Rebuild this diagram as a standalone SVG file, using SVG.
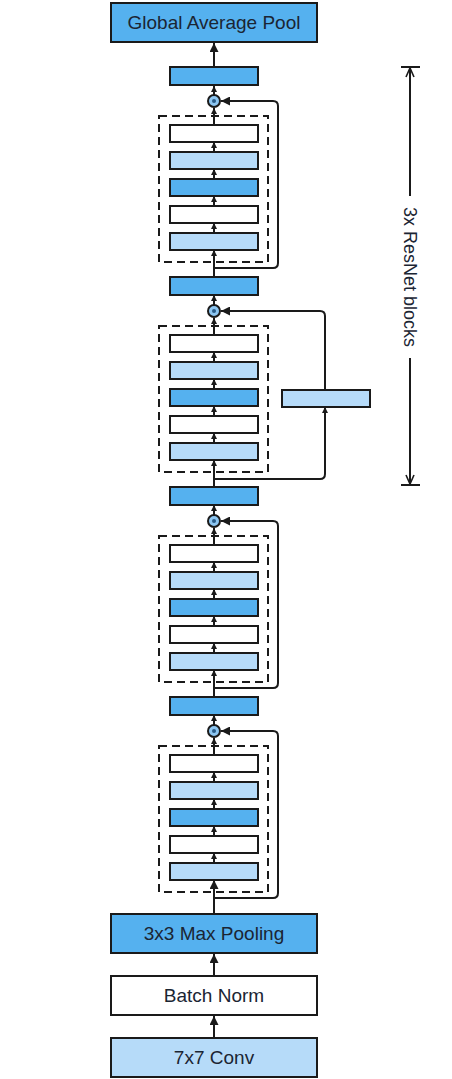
<svg xmlns="http://www.w3.org/2000/svg" width="452" height="1079" viewBox="0 0 452 1079">
<defs>
<style>
.box{stroke:#1a1a1a;stroke-width:2}
.dk{fill:#55b1ef}
.lt{fill:#b6dbf9}
.wh{fill:#ffffff}
.dash{fill:none;stroke:#1a1a1a;stroke-width:2;stroke-dasharray:8,5}
.ln{fill:none;stroke:#1a1a1a;stroke-width:2}
.lbl{font-family:"Liberation Sans",Arial,sans-serif;font-size:19px;fill:#1b2533;text-anchor:middle;dominant-baseline:central}
.add{fill:#8cc6f2;stroke:#1a1a1a;stroke-width:2}
</style>
<marker id="arr" viewBox="0 0 10 10" refX="10" refY="5" markerWidth="9" markerHeight="9" markerUnits="userSpaceOnUse" orient="auto"><path d="M0,0 L10,5 L0,10 z" fill="#1a1a1a"/></marker>
<marker id="arrs" viewBox="0 0 10 10" refX="10" refY="5" markerWidth="6" markerHeight="6" markerUnits="userSpaceOnUse" orient="auto"><path d="M0,0 L10,5 L0,10 z" fill="#1a1a1a"/></marker>
<marker id="open" viewBox="0 0 10 10" refX="10" refY="5" markerWidth="10" markerHeight="10" markerUnits="userSpaceOnUse" orient="auto"><path d="M1,1 L10,5 L1,9" fill="none" stroke="#1a1a1a" stroke-width="1.6"/></marker>
</defs>
<rect width="452" height="1079" fill="#ffffff"/>

<g id="connectors">
<!-- top output -->
<line class="ln" x1="214" y1="67" x2="214" y2="43" marker-end="url(#arr)"/>
<!-- stem -->
<line class="ln" x1="214" y1="1038" x2="214" y2="1016" marker-end="url(#arr)"/>
<line class="ln" x1="214" y1="976" x2="214" y2="954" marker-end="url(#arr)"/>
<!-- block 0 (top) -->
<line class="ln" x1="214" y1="95" x2="214" y2="86" marker-end="url(#arrs)"/>
<line class="ln" x1="214" y1="125" x2="214" y2="108" marker-end="url(#arrs)"/>
<line class="ln" x1="214" y1="152" x2="214" y2="142" marker-end="url(#arrs)"/>
<line class="ln" x1="214" y1="179" x2="214" y2="169" marker-end="url(#arrs)"/>
<line class="ln" x1="214" y1="206" x2="214" y2="196" marker-end="url(#arrs)"/>
<line class="ln" x1="214" y1="233" x2="214" y2="223" marker-end="url(#arrs)"/>
<line class="ln" x1="214" y1="277" x2="214" y2="250" marker-end="url(#arrs)"/>
<path class="ln" d="M214,268 H273 Q278,268 278,263 V106 Q278,101 273,101 H221" marker-end="url(#arr)"/>
<!-- block 1 (projection) -->
<line class="ln" x1="214" y1="305" x2="214" y2="295" marker-end="url(#arrs)"/>
<line class="ln" x1="214" y1="335" x2="214" y2="318" marker-end="url(#arrs)"/>
<line class="ln" x1="214" y1="362" x2="214" y2="352" marker-end="url(#arrs)"/>
<line class="ln" x1="214" y1="389" x2="214" y2="379" marker-end="url(#arrs)"/>
<line class="ln" x1="214" y1="416" x2="214" y2="406" marker-end="url(#arrs)"/>
<line class="ln" x1="214" y1="443" x2="214" y2="433" marker-end="url(#arrs)"/>
<line class="ln" x1="214" y1="487" x2="214" y2="460" marker-end="url(#arrs)"/>
<path class="ln" d="M214,479 H320 Q325,479 325,474 V407" marker-end="url(#arrs)"/>
<path class="ln" d="M325,390 V316 Q325,311 320,311 H221" marker-end="url(#arr)"/>
<!-- block 2 -->
<line class="ln" x1="214" y1="515" x2="214" y2="505" marker-end="url(#arrs)"/>
<line class="ln" x1="214" y1="545" x2="214" y2="528" marker-end="url(#arrs)"/>
<line class="ln" x1="214" y1="572" x2="214" y2="562" marker-end="url(#arrs)"/>
<line class="ln" x1="214" y1="599" x2="214" y2="589" marker-end="url(#arrs)"/>
<line class="ln" x1="214" y1="626" x2="214" y2="616" marker-end="url(#arrs)"/>
<line class="ln" x1="214" y1="653" x2="214" y2="643" marker-end="url(#arrs)"/>
<line class="ln" x1="214" y1="697" x2="214" y2="670" marker-end="url(#arrs)"/>
<path class="ln" d="M214,688 H273 Q278,688 278,683 V526 Q278,521 273,521 H221" marker-end="url(#arr)"/>
<!-- block 3 (bottom) -->
<line class="ln" x1="214" y1="725" x2="214" y2="715" marker-end="url(#arrs)"/>
<line class="ln" x1="214" y1="755" x2="214" y2="738" marker-end="url(#arrs)"/>
<line class="ln" x1="214" y1="782" x2="214" y2="772" marker-end="url(#arrs)"/>
<line class="ln" x1="214" y1="809" x2="214" y2="799" marker-end="url(#arrs)"/>
<line class="ln" x1="214" y1="836" x2="214" y2="826" marker-end="url(#arrs)"/>
<line class="ln" x1="214" y1="863" x2="214" y2="853" marker-end="url(#arrs)"/>
<line class="ln" x1="214" y1="914" x2="214" y2="880" marker-end="url(#arr)"/>
<path class="ln" d="M214,898 H273 Q278,898 278,893 V736 Q278,731 273,731 H221" marker-end="url(#arr)"/>
<!-- 3x ResNet blocks dimension -->
<line class="ln" x1="401" y1="67" x2="420" y2="67"/>
<line class="ln" x1="401" y1="485" x2="420" y2="485"/>
<line class="ln" x1="410" y1="196" x2="410" y2="68" marker-end="url(#open)"/>
<line class="ln" x1="410" y1="358" x2="410" y2="484" marker-end="url(#open)"/>
</g>

<g id="global-average-pool"><rect class="box dk" x="111" y="3" width="206" height="39"/><text class="lbl" x="214" y="22.5">Global Average Pool</text></g>
<g id="max-pooling"><rect class="box dk" x="111" y="914" width="206" height="39"/><text class="lbl" x="214" y="933.5">3x3 Max Pooling</text></g>
<g id="batch-norm"><rect class="box wh" x="111" y="976" width="206" height="39"/><text class="lbl" x="214" y="995.5">Batch Norm</text></g>
<g id="conv7x7"><rect class="box lt" x="111" y="1038" width="206" height="39"/><text class="lbl" x="214" y="1057.5">7x7 Conv</text></g>

<g id="block0">
<rect class="box dk" x="170" y="67" width="88" height="18"/>
<circle class="add" cx="214" cy="101" r="6"/><circle cx="214" cy="101" r="2" fill="#2a5d8a"/>
<rect class="dash" x="159" y="116" width="109" height="146"/>
<rect class="box wh" x="170" y="125" width="88" height="17"/>
<rect class="box lt" x="170" y="152" width="88" height="17"/>
<rect class="box dk" x="170" y="179" width="88" height="17"/>
<rect class="box wh" x="170" y="206" width="88" height="17"/>
<rect class="box lt" x="170" y="233" width="88" height="17"/>
</g>
<g id="block1">
<rect class="box dk" x="170" y="277" width="88" height="18"/>
<circle class="add" cx="214" cy="311" r="6"/><circle cx="214" cy="311" r="2" fill="#2a5d8a"/>
<rect class="dash" x="159" y="326" width="109" height="146"/>
<rect class="box wh" x="170" y="335" width="88" height="17"/>
<rect class="box lt" x="170" y="362" width="88" height="17"/>
<rect class="box dk" x="170" y="389" width="88" height="17"/>
<rect class="box wh" x="170" y="416" width="88" height="17"/>
<rect class="box lt" x="170" y="443" width="88" height="17"/>
</g>
<g id="projection"><rect class="box lt" x="282" y="390" width="88" height="17"/></g>
<g id="block2">
<rect class="box dk" x="170" y="487" width="88" height="18"/>
<circle class="add" cx="214" cy="521" r="6"/><circle cx="214" cy="521" r="2" fill="#2a5d8a"/>
<rect class="dash" x="159" y="536" width="109" height="146"/>
<rect class="box wh" x="170" y="545" width="88" height="17"/>
<rect class="box lt" x="170" y="572" width="88" height="17"/>
<rect class="box dk" x="170" y="599" width="88" height="17"/>
<rect class="box wh" x="170" y="626" width="88" height="17"/>
<rect class="box lt" x="170" y="653" width="88" height="17"/>
</g>
<g id="block3">
<rect class="box dk" x="170" y="697" width="88" height="18"/>
<circle class="add" cx="214" cy="731" r="6"/><circle cx="214" cy="731" r="2" fill="#2a5d8a"/>
<rect class="dash" x="159" y="746" width="109" height="146"/>
<rect class="box wh" x="170" y="755" width="88" height="17"/>
<rect class="box lt" x="170" y="782" width="88" height="17"/>
<rect class="box dk" x="170" y="809" width="88" height="17"/>
<rect class="box wh" x="170" y="836" width="88" height="17"/>
<rect class="box lt" x="170" y="863" width="88" height="17"/>
</g>
<g id="resnet-label"><text class="lbl" style="font-size:18px" transform="translate(410,277) rotate(90)" x="0" y="0">3x ResNet blocks</text></g>
</svg>
